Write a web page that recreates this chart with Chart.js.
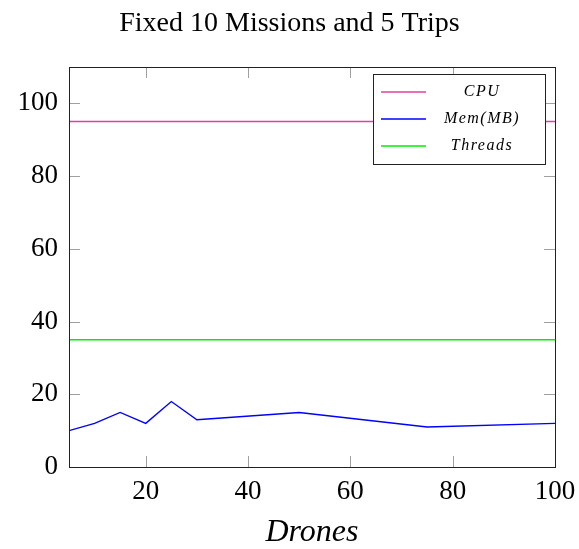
<!DOCTYPE html>
<html>
<head>
<meta charset="utf-8">
<script src="https://cdn.jsdelivr.net/npm/chart.js@4"></script>
<style>
  html, body { margin: 0; padding: 0; background: #fff; }
  #wrap { width: 579px; height: 549px; }
</style>
</head>
<body>
<div id="wrap"><canvas id="chart" width="579" height="549"></canvas></div>
<script>
// data
const drones = [5, 10, 15, 20, 25, 30, 50, 75, 100];
const cpu = [95, 95, 95, 95, 95, 95, 95, 95, 95];
const mem = [10, 12, 15, 12, 18, 13, 15, 11, 12];
const threads = [35, 35, 35, 35, 35, 35, 35, 35, 35];
const xTicks = [20, 40, 60, 80, 100];
const yTicks = [0, 20, 40, 60, 80, 100];

const serif = "'Liberation Serif', 'DejaVu Serif', serif";
const colors = ["#e0409a", "#0000ff", "#00ee00"];

function toPoints(values) {
    return drones.map((d, i) => ({ x: d, y: values[i] }));
}

// pgfplots style frame: tick marks pointing inward on all four sides
const innerTicks = {
    id: "innerTicks",
    afterDraw(chart) {
        const ctx = chart.ctx;
        const a = chart.chartArea;
        const xs = chart.scales.x, ys = chart.scales.y;
        ctx.save();
        ctx.strokeStyle = "#a0a0a0";
        ctx.lineWidth = 1;
        ctx.beginPath();
        xTicks.forEach(v => {
            const px = Math.round(xs.getPixelForValue(v)) + 0.5;
            ctx.moveTo(px, a.bottom); ctx.lineTo(px, a.bottom - 11);
            ctx.moveTo(px, a.top); ctx.lineTo(px, a.top + 11);
        });
        yTicks.forEach(v => {
            const py = Math.round(ys.getPixelForValue(v)) + 0.5;
            ctx.moveTo(a.left, py); ctx.lineTo(a.left + 11, py);
            ctx.moveTo(a.right, py); ctx.lineTo(a.right - 11, py);
        });
        ctx.stroke();
        ctx.strokeStyle = "#222";
        ctx.strokeRect(Math.round(a.left) + 0.5, Math.round(a.top) + 0.5,
            Math.round(a.right - a.left), Math.round(a.bottom - a.top));
        ctx.restore();
    }
};

// legend box in the upper right corner of the plot
const boxLegend = {
    id: "boxLegend",
    afterDraw(chart) {
        const ctx = chart.ctx;
        const a = chart.chartArea;
        const w = 172, h = 90;
        const left = Math.round(a.right) - 10 - w, top = Math.round(a.top) + 7;
        ctx.save();
        ctx.fillStyle = "#fff";
        ctx.fillRect(left, top, w, h);
        ctx.strokeStyle = "#222";
        ctx.lineWidth = 1;
        ctx.strokeRect(left + 0.5, top + 0.5, w, h);
        ctx.font = "italic 16px " + serif;
        ctx.letterSpacing = "1.5px";
        ctx.textAlign = "center";
        ctx.textBaseline = "middle";
        chart.data.datasets.forEach((ds, i) => {
            const y = top + 18 + i * 27;
            ctx.lineWidth = 1.4;
            ctx.strokeStyle = colors[i];
            ctx.beginPath();
            ctx.moveTo(left + 8, y);
            ctx.lineTo(left + 53, y);
            ctx.stroke();
            ctx.fillStyle = "#000";
            ctx.fillText(ds.label, left + 109, y);
        });
        ctx.restore();
    }
};

new Chart(document.getElementById("chart"), {
    type: "line",
    data: {
        datasets: [
            { label: "CPU", data: toPoints(cpu), borderColor: colors[0], borderWidth: 1.4 },
            { label: "Mem(MB)", data: toPoints(mem), borderColor: colors[1], borderWidth: 1.4 },
            { label: "Threads", data: toPoints(threads), borderColor: colors[2], borderWidth: 1.4 }
        ]
    },
    options: {
        responsive: false,
        animation: false,
        layout: { padding: 0 },
        elements: { point: { radius: 0 }, line: { tension: 0 } },
        plugins: {
            legend: { display: false },
            tooltip: { enabled: false },
            title: {
                display: true,
                text: "Fixed 10 Missions and 5 Trips",
                color: "#000",
                font: { family: serif, size: 28, weight: "normal", lineHeight: 1.2 },
                padding: { top: 7, bottom: 26.4 }
            }
        },
        scales: {
            x: {
                type: "linear",
                min: 5,
                max: 100,
                afterBuildTicks: s => { s.ticks = xTicks.map(v => ({ value: v })); },
                afterFit: s => { s.height = 82; s.paddingLeft = 0; s.paddingRight = 0; },
                grid: { display: false, drawTicks: false },
                border: { display: false },
                ticks: { color: "#000", font: { family: serif, size: 27 }, padding: 9, maxRotation: 0 },
                title: {
                    display: true,
                    text: "Drones",
                    color: "#000",
                    font: { family: serif, size: 32, style: "italic", lineHeight: 1 },
                    padding: { top: 0, bottom: 0 }
                }
            },
            y: {
                min: 0,
                max: 110,
                afterBuildTicks: s => { s.ticks = yTicks.map(v => ({ value: v })); },
                afterFit: s => { s.width = 69; s.paddingTop = 0; s.paddingBottom = 0; },
                grid: { display: false, drawTicks: false },
                border: { display: false },
                ticks: { color: "#000", font: { family: serif, size: 27 }, padding: 11 }
            },
            // empty right axis that only reserves the margin right of the frame
            y2: {
                position: "right",
                min: 0,
                max: 110,
                afterFit: s => { s.width = 24; s.paddingTop = 0; s.paddingBottom = 0; },
                grid: { display: false, drawTicks: false },
                border: { display: false },
                ticks: { display: false }
            }
        }
    },
    plugins: [innerTicks, boxLegend]
});
</script>
</body>
</html>
